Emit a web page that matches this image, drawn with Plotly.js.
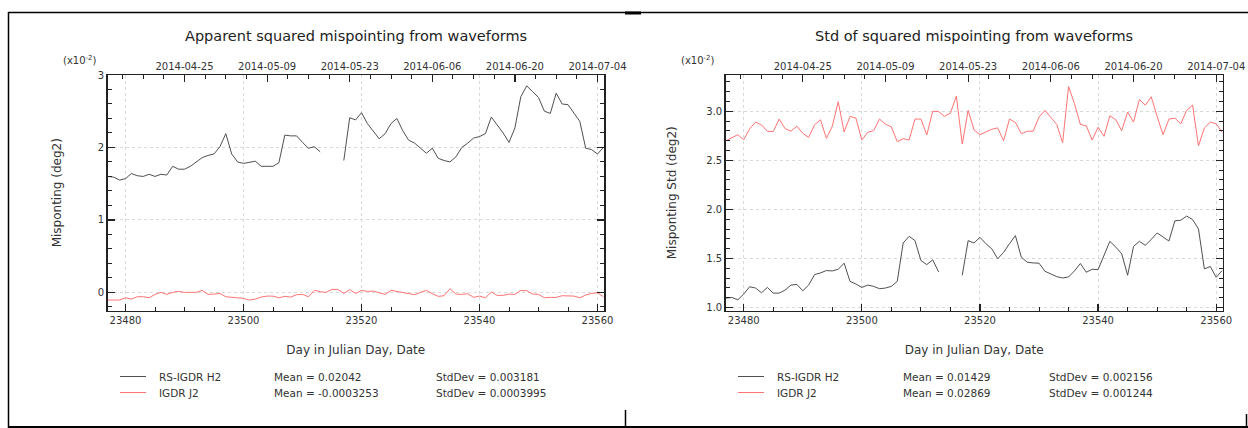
<!DOCTYPE html>
<html>
<head>
<meta charset="utf-8">
<script src="https://cdn.plot.ly/plotly-3.0.1.min.js"></script>
<style>html,body{margin:0;padding:0;background:#fff;}#chart{width:1248px;height:428px;}</style>
</head>
<body>
<div id="chart"></div>
<script>
// ---------- DATA ----------
const days = [23477,23478,23479,23480,23481,23482,23483,23484,23485,23486,23487,23488,23489,23490,23491,23492,23493,23494,23495,23496,23497,23498,23499,23500,23501,23502,23503,23504,23505,23506,23507,23508,23509,23510,23511,23512,23513,23514,23515,23516,23517,23518,23519,23520,23521,23522,23523,23524,23525,23526,23527,23528,23529,23530,23531,23532,23533,23534,23535,23536,23537,23538,23539,23540,23541,23542,23543,23544,23545,23546,23547,23548,23549,23550,23551,23552,23553,23554,23555,23556,23557,23558,23559,23560,23561];

// Left panel: apparent squared mispointing (x1e-2 deg2)
const mispRS = [1.60,1.59,1.55,1.57,1.64,1.61,1.60,1.63,1.60,1.63,1.62,1.74,1.70,1.70,1.74,1.80,1.86,1.89,1.91,2.01,2.19,1.91,1.80,1.78,1.80,1.81,1.74,1.74,1.74,1.79,2.17,2.16,2.16,2.07,1.99,2.01,1.94,
  null,null,null,
  1.82,2.41,2.38,2.48,2.33,2.23,2.12,2.19,2.33,2.40,2.23,2.10,2.06,1.99,1.92,1.99,1.85,1.82,1.80,1.87,2.00,2.06,2.13,2.15,2.19,2.42,2.31,2.20,2.07,2.27,2.70,2.85,2.77,2.69,2.50,2.47,2.75,2.60,2.59,2.47,2.36,1.99,1.97,1.91,2.00];
const mispJ2 = [-0.106,-0.106,-0.106,-0.074,-0.092,-0.060,-0.060,-0.074,-0.028,0.000,-0.028,0.000,0.014,0.000,0.000,0.000,0.028,-0.028,-0.023,-0.014,-0.060,-0.069,-0.069,-0.083,-0.106,-0.092,-0.065,-0.051,-0.051,-0.074,-0.055,-0.065,-0.032,-0.028,-0.060,0.028,0.009,0.000,0.041,0.041,-0.014,0.037,-0.014,0.028,0.014,0.018,-0.005,-0.028,0.028,0.014,0.000,-0.023,-0.032,0.000,0.028,-0.018,-0.055,-0.046,0.051,-0.023,-0.028,-0.018,-0.069,-0.051,-0.074,0.005,-0.041,-0.041,-0.023,-0.028,0.028,0.023,-0.023,-0.028,-0.074,-0.069,-0.069,-0.046,-0.051,-0.051,-0.074,-0.037,-0.014,-0.005,-0.060];

// Right panel: std of squared mispointing (x1e-2 deg2)
const stdRS = [1.096,1.103,1.079,1.137,1.212,1.199,1.151,1.205,1.147,1.147,1.178,1.229,1.236,1.171,1.229,1.336,1.353,1.377,1.373,1.390,1.452,1.267,1.240,1.205,1.229,1.216,1.192,1.199,1.216,1.267,1.658,1.726,1.682,1.479,1.438,1.486,1.363,
  null,null,null,
  1.329,1.682,1.658,1.716,1.651,1.599,1.497,1.562,1.651,1.733,1.514,1.462,1.455,1.452,1.370,1.342,1.315,1.301,1.312,1.373,1.449,1.360,1.390,1.387,1.524,1.675,1.616,1.548,1.329,1.623,1.675,1.634,1.695,1.760,1.719,1.678,1.884,1.890,1.932,1.897,1.801,1.394,1.418,1.308,1.377];
const stdJ2 = [2.700,2.728,2.762,2.710,2.821,2.890,2.862,2.797,2.793,2.921,2.824,2.797,2.848,2.776,2.734,2.862,2.914,2.724,2.848,3.097,2.790,2.948,2.931,2.707,2.786,2.803,2.921,2.869,2.841,2.690,2.721,2.707,2.921,2.921,2.759,3.000,2.997,2.948,2.983,3.155,2.666,3.010,2.810,2.762,2.786,2.817,2.831,2.700,2.921,2.886,2.772,2.797,2.797,2.941,3.010,2.941,2.866,2.679,3.252,3.079,2.866,2.852,2.707,2.838,2.745,2.955,2.914,2.803,2.993,2.890,3.121,3.062,3.148,2.948,2.762,2.921,2.931,2.872,3.010,3.062,2.648,2.831,2.890,2.872,2.786];

const seriesNames = ['RS-IGDR H2','IGDR J2'];
const meansLeft = [0.02042, -0.0003253];
const stdsLeft = [0.003181, 0.0003995];
const meansRight = [0.01429, 0.02869];
const stdsRight = [0.002156, 0.001244];

const dateTickVals = [23490,23504,23518,23532,23546,23560];
const dateTickText = ['2014-04-25','2014-05-09','2014-05-23','2014-06-06','2014-06-20','2014-07-04'];

const titles = ['Apparent squared mispointing from waveforms','Std of squared mispointing from waveforms'];
const yTitles = ['Misponting (deg2)','Misponting Std (deg2)'];
const xTitle = 'Day in Julian Day, Date';

// ---------- LAYOUT ----------
const W = 1248, H = 428;
const px = v => v / W;
const py = v => 1 - v / H;
const FONT = 'DejaVu Sans';
const TXT = '#333';
const AX = '#222';
const colRS = '#505050';
const colJ2 = '#ff7373';
const GRID = '#d9d9d9';
const xRange = [23476.95, 23561.1];

function bottomX(domain) {
  return {
    domain: domain, range: xRange, showline: true, linecolor: AX, linewidth: 1.5,
    ticks: 'inside', ticklen: 7, tickwidth: 1.2, tickcolor: AX,
    tick0: 23480, dtick: 20, tickformat: 'd', tickfont: {family: FONT, size: 10, color: TXT},
    minor: {ticks: 'inside', tick0: 23480, dtick: 5, ticklen: 4, tickcolor: AX, tickwidth: 1, showgrid: false},
    showgrid: true, gridcolor: GRID, griddash: 'dot', gridwidth: 1, zeroline: false,
    title: {text: xTitle, font: {family: FONT, size: 12, color: TXT}, standoff: 20}
  };
}
function topX(over, anchorY) {
  return {
    overlaying: over, anchor: anchorY, side: 'top', range: xRange, showline: true, linecolor: AX, linewidth: 1.5,
    tickmode: 'array', tickvals: dateTickVals, ticktext: dateTickText,
    ticks: 'inside', ticklen: 7, tickwidth: 1.2, tickcolor: AX,
    tickfont: {family: FONT, size: 10, color: TXT},
    minor: {ticks: 'inside', tickmode: 'linear', tick0: 23490, dtick: 3.5, ticklen: 4, tickcolor: AX, tickwidth: 1, showgrid: false},
    showgrid: false, zeroline: false
  };
}
function leftY(domain, range, dtick, mdtick, fmt, title, tick0, standoff) {
  return {
    domain: domain, range: range, showline: true, linecolor: AX, linewidth: 1.5, mirror: 'ticks',
    ticks: 'inside', ticklen: 7, tickwidth: 1.2, tickcolor: AX,
    tick0: tick0, dtick: dtick, tickformat: fmt, tickfont: {family: FONT, size: 10, color: TXT},
    minor: {ticks: 'inside', tick0: tick0, dtick: mdtick, ticklen: 4, tickcolor: AX, tickwidth: 1, showgrid: false},
    showgrid: true, gridcolor: GRID, griddash: 'dot', gridwidth: 1, zeroline: false,
    title: {text: title, font: {family: FONT, size: 12, color: TXT}, standoff: standoff}
  };
}

const yDom = [py(310.5), py(75)];
const xDomL = [px(107.5), px(604)];
const xDomR = [px(725.7), px(1222.7)];

const traces = [
  {x: days, y: mispRS, xaxis: 'x', yaxis: 'y', mode: 'lines', line: {color: colRS, width: 1}, connectgaps: false, name: seriesNames[0]},
  {x: days, y: mispJ2, xaxis: 'x2', yaxis: 'y', mode: 'lines', line: {color: colJ2, width: 1}, name: seriesNames[1]},
  {x: days, y: stdRS, xaxis: 'x3', yaxis: 'y2', mode: 'lines', line: {color: colRS, width: 1}, connectgaps: false, name: seriesNames[0]},
  {x: days, y: stdJ2, xaxis: 'x4', yaxis: 'y2', mode: 'lines', line: {color: colJ2, width: 1}, name: seriesNames[1]}
];

const annotations = [];
const shapes = [];
function panelDecor(centerX, titleTxt, expoX, legX0, nameX, meanX, stdX, means, stds) {
  annotations.push({xref: 'paper', yref: 'paper', x: px(centerX), y: py(36), text: titleTxt, showarrow: false,
    xanchor: 'center', yanchor: 'middle', font: {family: FONT, size: 14.5, color: '#222'}});
  annotations.push({xref: 'paper', yref: 'paper', x: px(expoX), y: py(60), text: '(x10<sup>-2</sup>)', showarrow: false,
    xanchor: 'center', yanchor: 'middle', font: {family: FONT, size: 10, color: TXT}});
  const rows = [376.5, 392.5];
  const cols = [colRS, colJ2];
  for (let i = 0; i < 2; i++) {
    shapes.push({type: 'line', xref: 'paper', yref: 'paper', x0: px(legX0), x1: px(legX0 + 26), y0: py(rows[i]), y1: py(rows[i]),
      line: {color: cols[i], width: 1}});
    annotations.push({xref: 'paper', yref: 'paper', x: px(nameX), y: py(rows[i]), text: seriesNames[i], showarrow: false,
      xanchor: 'left', yanchor: 'middle', font: {family: FONT, size: 10.5, color: TXT}});
    annotations.push({xref: 'paper', yref: 'paper', x: px(meanX), y: py(rows[i]), text: 'Mean = ' + means[i], showarrow: false,
      xanchor: 'left', yanchor: 'middle', font: {family: FONT, size: 10.5, color: TXT}});
    annotations.push({xref: 'paper', yref: 'paper', x: px(stdX), y: py(rows[i]), text: 'StdDev = ' + stds[i], showarrow: false,
      xanchor: 'left', yanchor: 'middle', font: {family: FONT, size: 10.5, color: TXT}});
  }
}
panelDecor(356, titles[0], 80, 120, 157, 272, 434, meansLeft, stdsLeft);
panelDecor(974, titles[1], 698, 738, 775, 901, 1047, meansRight, stdsRight);

// outer frame fragments
function frameLine(x0, y0, x1, y1, w) {
  shapes.push({type: 'line', xref: 'paper', yref: 'paper', x0: px(x0), y0: py(y0), x1: px(x1), y1: py(y1), line: {color: '#000', width: w}});
}
frameLine(8, 12.5, 1248, 12.5, 1.5);
frameLine(625, 13, 641, 13, 3);
frameLine(8.5, 12, 8.5, 428, 1.5);
frameLine(8, 427, 1248, 427, 2);
frameLine(625.5, 410, 625.5, 428, 1.5);
frameLine(1246.5, 414, 1246.5, 428, 1.5);

const layout = {
  width: W, height: H, margin: {l: 0, r: 0, t: 0, b: 0}, paper_bgcolor: '#fff', plot_bgcolor: '#fff',
  showlegend: false,
  font: {family: FONT, color: TXT},
  xaxis: Object.assign(bottomX(xDomL), {anchor: 'y'}),
  xaxis2: topX('x', 'y'),
  xaxis3: Object.assign(bottomX(xDomR), {anchor: 'y2'}),
  xaxis4: topX('x3', 'y2'),
  yaxis: Object.assign(leftY(yDom, [-0.25, 3], 1, 0.2, 'd', yTitles[0], 0, 33), {anchor: 'x'}),
  yaxis2: Object.assign(leftY(yDom, [0.97, 3.37], 0.5, 0.1, '.1f', yTitles[1], 1, 27), {anchor: 'x3'}),
  annotations: annotations,
  shapes: shapes
};

Plotly.newPlot('chart', traces, layout, {staticPlot: true, displayModeBar: false});
</script>
</body>
</html>
